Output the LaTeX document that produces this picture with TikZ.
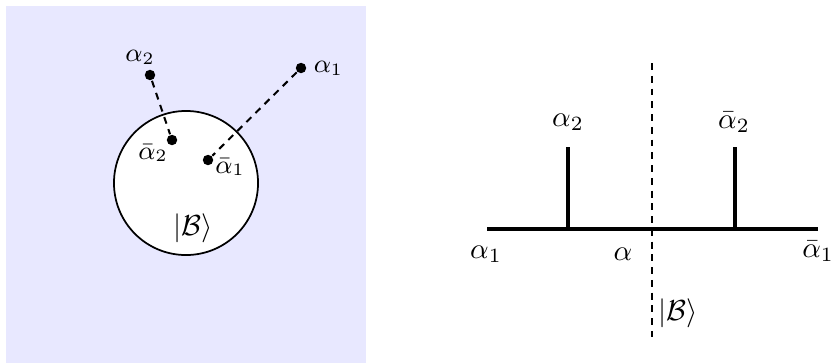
\documentclass[tikz,border=0pt]{standalone}
\usepackage{amsmath,amssymb}
\usepackage{tikz}
\usetikzlibrary{positioning}
\definecolor{bgblue}{RGB}{232,232,255}

\begin{document}
\begin{tikzpicture}[x=0.345pt, y=-0.345pt, line width=0.6pt, every node/.style={inner sep=1pt},
  pt/.style={circle, fill=black, inner sep=0pt, minimum size=3.6pt},
  cut/.style={dash pattern=on 2.4pt off 2pt, line width=0.7pt},
  bar/.style={line width=1.4pt},
  lbl/.style={font=\small}]
  \useasboundingbox (0,0) rectangle (831,363);
  % left: disc picture
  \fill[bgblue] (6,6) rectangle (366,363);
  \node[circle, draw, fill=white, minimum size=49.7pt] (disc) at (186,183) {};
  \node at (193,228) {$|\mathcal{B}\rangle$};
  \node[pt] (a2) at (150,75) {};
  \node[pt] (a1) at (301,68) {};
  \node[pt] (b2) at (172,140) {};
  \node[pt] (b1) at (208,160) {};
  \node[lbl] at (140,57) {$\alpha_2$};
  \node[lbl, right=1pt of a1] {$\alpha_1$};
  \node[lbl] at (153,153) {$\bar\alpha_2$};
  \node[lbl] at (230,167) {$\bar\alpha_1$};
  \draw[cut] (a2) -- (b2);
  \draw[cut] (a1) -- (b1);

  % right: line picture
  \coordinate (l) at (487,229);
  \coordinate (r) at (818,229);
  \coordinate (p) at (568,229);
  \coordinate (q) at (735,229);
  \coordinate (pt2) at (568,147);
  \coordinate (qt2) at (735,147);
  \coordinate (cut1) at (652,63);
  \coordinate (cut2) at (652,337);
  \draw[bar] (l) -- (r);
  \draw[bar] (p) -- (pt2);
  \draw[bar] (q) -- (qt2);
  \draw[cut] (cut1) -- (cut2);
  \node at (568,122) {$\alpha_2$};
  \node at (734,122) {$\bar\alpha_2$};
  \node at (486,254) {$\alpha_1$};
  \node at (623,254) {$\alpha$};
  \node at (818,251) {$\bar\alpha_1$};
  \node at (678,313) {$|\mathcal{B}\rangle$};
\end{tikzpicture}
\end{document}
